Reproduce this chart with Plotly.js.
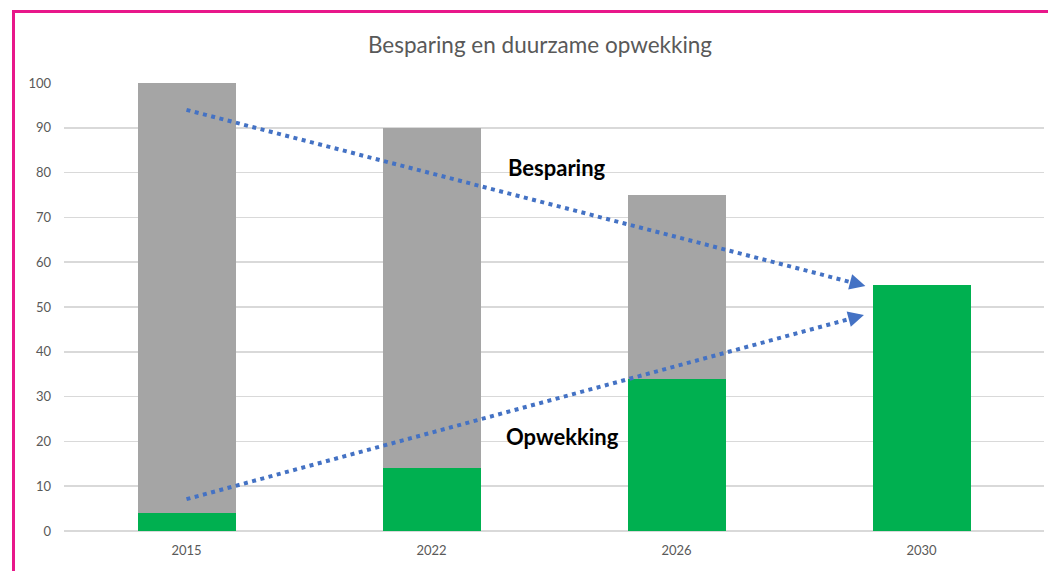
<!DOCTYPE html>
<html>
<head>
<meta charset="utf-8">
<script src="https://cdn.plot.ly/plotly-3.0.1.min.js"></script>
<style>
  html, body { margin: 0; padding: 0; width: 1048px; height: 571px; overflow: hidden; background: #fff; }
  #chart { width: 1048px; height: 571px; }
  #frame { position: absolute; left: 12px; top: 10px; width: 1100px; height: 700px;
           border-left: 3px solid #E8178A; border-top: 3px solid #E8178A; pointer-events: none; }
</style>
</head>
<body>
<div id="chart"></div>
<div id="frame"></div>
<script>
// Categories and values
const years = ['2015', '2022', '2026', '2030'];
const opwekking = [4, 14, 34, 55];          // green (sustainable generation)
const besparing = [96, 76, 41, 0];          // gray (savings), stacked on top
const yTicks = [0, 10, 20, 30, 40, 50, 60, 70, 80, 90, 100];

// Trend arrows (x as category index, y in axis units): [start, tip]
const besparingArrowX = [0, 2.771];
const besparingArrowY = [94, 54.7];
const opwekkingArrowX = [0, 2.765];
const opwekkingArrowY = [7.1, 48.2];

// Label positions
const labelText = ['Besparing', 'Opwekking'];
const labelX = [1.514, 1.535];
const labelY = [81.2, 21.0];

const idx = years.map((_, i) => i);
const blue = '#4472C4';
const headFrac = 0.022; // fraction of the arrow length covered by the arrowhead

const backPoint = (xs, ys) => [xs[1] - (xs[1] - xs[0]) * headFrac, ys[1] - (ys[1] - ys[0]) * headFrac];

const arrowTrace = (xs, ys) => {
  const b = backPoint(xs, ys);
  return {
    type: 'scatter', mode: 'lines', x: [xs[0], b[0]], y: [ys[0], b[1]],
    line: { color: blue, width: 4, dash: '4px,4.5px' },
    hoverinfo: 'skip', showlegend: false, cliponaxis: false
  };
};
const arrowHead = (xs, ys) => {
  const b = backPoint(xs, ys);
  return {
    x: xs[1], y: ys[1], xref: 'x', yref: 'y', ax: b[0], ay: b[1], axref: 'x', ayref: 'y',
    showarrow: true, arrowhead: 2, arrowsize: 0.9, arrowwidth: 3.5, arrowcolor: blue, text: ''
  };
};

const data = [
  { type: 'bar', x: idx, y: opwekking, marker: { color: '#00B050' }, name: 'Opwekking', hoverinfo: 'skip' },
  { type: 'bar', x: idx, y: besparing, marker: { color: '#A5A5A5' }, name: 'Besparing', hoverinfo: 'skip' },
  arrowTrace(besparingArrowX, besparingArrowY),
  arrowTrace(opwekkingArrowX, opwekkingArrowY)
];

const annotations = labelText.map((t, i) => ({
  x: labelX[i], y: labelY[i], xref: 'x', yref: 'y', text: '<b>' + t + '</b>', showarrow: false,
  font: { family: 'Lato, sans-serif', size: 22, color: '#000000' }, xanchor: 'center', yanchor: 'middle'
}));
annotations.push(arrowHead(besparingArrowX, besparingArrowY));
annotations.push(arrowHead(opwekkingArrowX, opwekkingArrowY));

const layout = {
  width: 1048, height: 571,
  margin: { l: 64, r: 4, t: 83, b: 40 },
  paper_bgcolor: 'rgba(0,0,0,0)', plot_bgcolor: 'rgba(0,0,0,0)',
  barmode: 'stack', bargap: 0.6,
  showlegend: false,
  font: { family: 'Lato, sans-serif', color: '#595959', size: 13 },
  title: { text: 'Besparing en duurzame opwekking', x: 540 / 1048, xanchor: 'center', xref: 'container',
           y: 1 - 45 / 571, yanchor: 'middle',
           font: { family: 'Lato, sans-serif', size: 22.5, color: '#595959' } },
  xaxis: {
    range: [-0.5, 3.5], tickvals: idx, ticktext: years, showgrid: false, zeroline: false,
    showline: false, ticks: '', ticklabelstandoff: 10, fixedrange: true,
    tickfont: { size: 13, color: '#595959' }
  },
  yaxis: {
    range: [0, 100], tickvals: yTicks, showgrid: true, gridcolor: '#D9D9D9', gridwidth: 1.5,
    zeroline: true, zerolinecolor: '#D9D9D9', zerolinewidth: 1.5, showline: false, ticks: '',
    ticklabelstandoff: 12, fixedrange: true, tickfont: { size: 13, color: '#595959' }
  },
  annotations: annotations
};

Plotly.newPlot('chart', data, layout, { displayModeBar: false, staticPlot: true });
</script>
</body>
</html>
